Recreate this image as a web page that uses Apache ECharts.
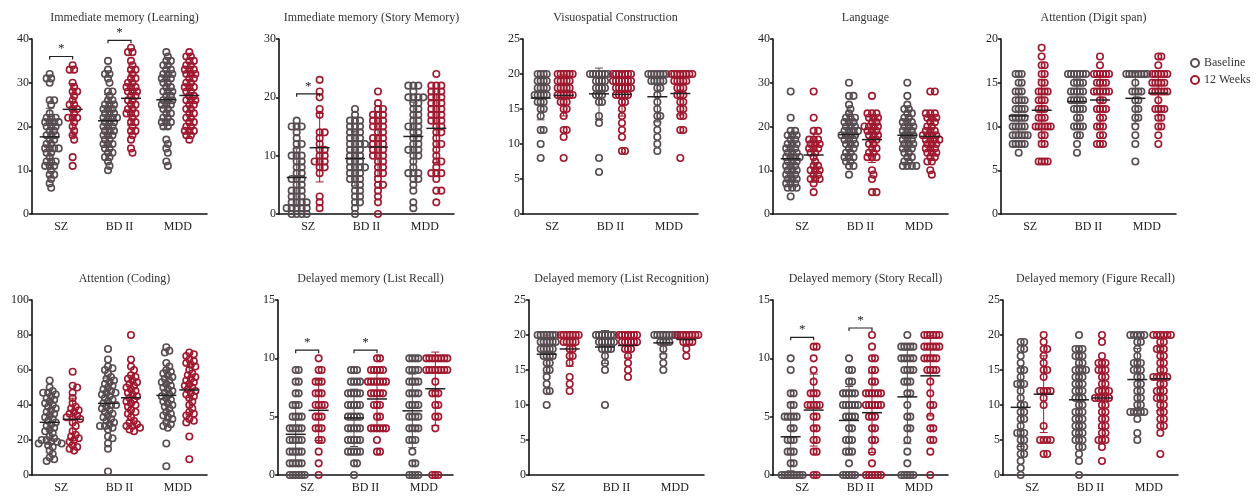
<!DOCTYPE html>
<html><head><meta charset="utf-8">
<script src="https://cdn.jsdelivr.net/npm/echarts@6/dist/echarts.min.js"></script>
<style>html,body{margin:0;padding:0;background:#fff}#c{width:1260px;height:498px}</style>
</head><body><div id="c"></div>
<script>
// ---------------- DATA ----------------
const categories = ['SZ', 'BD II', 'MDD'];
const groupNames = ['Baseline', '12 Weeks'];
const titles = ['Immediate memory (Learning)', 'Immediate memory (Story Memory)', 'Visuospatial Construction', 'Language', 'Attention (Digit span)',
  'Attention (Coding)', 'Delayed memory (List Recall)', 'Delayed memory (List Recognition)', 'Delayed memory (Story Recall)', 'Delayed memory (Figure Recall)'];
const yMax = [40, 30, 25, 40, 20, 100, 15, 25, 15, 25];
const yInterval = [10, 10, 5, 10, 5, 20, 5, 5, 5, 5];

// each panel: [SZ baseline, SZ 12w, BD II baseline, BD II 12w, MDD baseline, MDD 12w]; entries [score, count] or plain score
const learning = [
  [[32,1],[31,2],[30,1],[26,2],[25,1],[23,1],[22,3],[21,4],[20,3],[19,2],[18,3],[17,2],[16,2],[15,4],[14,2],[13,1],[12,3],[11,3],[10,1],[9,2],[8,1],[7,1],[6,1]],
  [[34,1],[33,2],[30,1],[29,1],[28,2],[27,1],[26,1],[25,2],[24,2],[23,1],[22,3],[21,1],[20,1],[19,1],[18,1],[17,1],[13,1],[11,1]],
  [[35,1],[33,1],[32,2],[31,1],[30,1],[28,2],[27,1],[26,2],[25,3],[24,3],[23,3],[22,4],[21,3],[20,3],[19,3],[18,3],[17,2],[16,3],[15,2],[14,2],[13,2],[12,1],[11,1],[10,1]],
  [[38,1],[37,2],[35,1],[34,1],[33,2],[32,1],[31,2],[30,2],[29,3],[28,3],[27,2],[26,2],[25,2],[24,2],[23,3],[22,1],[21,2],[20,1],[19,2],[18,1],[17,1],[15,1],[14,1]],
  [[37,1],[36,1],[35,2],[34,2],[33,2],[32,3],[31,3],[30,2],[29,2],[28,3],[27,2],[26,3],[25,3],[24,2],[23,2],[22,2],[21,3],[20,2],[17,1],[16,1],[15,1],[14,1],[12,1],[11,1]],
  [[37,1],[36,2],[35,2],[34,2],[33,3],[32,3],[31,2],[30,2],[29,3],[28,2],[27,2],[26,3],[25,2],[24,2],[23,2],[22,2],[21,2],[20,2],[19,3],[18,2],[17,1]]
];
const storyMemory = [
  [[16,1],[15,3],[14,1],[13,1],[12,2],[11,1],[10,3],[9,2],[8,2],[7,2],[6,3],[5,2],[4,3],[3,3],[2,4],[1,5],[0,4]],
  [[23,1],[21,1],[20,1],[18,1],[17,1],[14,2],[13,1],[12,1],[11,2],[10,2],[9,3],[8,2],[7,1],[3,1],[2,1],[1,1]],
  [[18,1],[17,1],[16,3],[15,3],[14,3],[13,3],[12,4],[11,3],[10,3],[9,3],[8,4],[7,3],[6,3],[5,2],[4,2],[3,2],[2,2],[1,1],[0,1]],
  [[21,1],[19,1],[18,2],[17,3],[16,3],[15,3],[14,2],[13,3],[12,3],[11,3],[10,3],[9,2],[8,2],[7,2],[6,1],[5,2],[4,1],[3,1],[2,1],[0,1]],
  [[22,3],[21,1],[20,4],[19,2],[18,2],[17,2],[16,2],[15,3],[14,2],[13,2],[12,2],[11,3],[10,2],[9,1],[8,1],[7,3],[6,2],[5,1],[4,1],[2,1],[1,1]],
  [[24,1],[22,3],[21,3],[20,3],[19,3],[18,3],[17,3],[16,3],[15,2],[14,2],[13,1],[12,2],[11,1],[10,1],[9,2],[8,1],[7,3],[6,1],[4,2],[2,1]]
];
const visuospatial = [
  [[20,4],[19,4],[18,4],[17,5],[16,3],[15,2],[14,1],[12,2],[10,1],[8,1]],
  [[20,6],[19,5],[18,5],[17,6],[16,3],[15,2],[14,1],[12,2],[11,1],[8,1]],
  [[20,7],[19,4],[18,4],[17,3],[16,2],[14,1],[13,1],[8,1],[6,1]],
  [[20,7],[19,7],[18,6],[17,5],[16,2],[15,1],[14,1],[13,1],[12,1],[11,1],[9,2]],
  [[20,7],[19,5],[18,2],[17,1],[16,1],[15,1],[14,2],[13,1],[12,1],[11,1],[10,1],[9,1]],
  [[20,8],[19,5],[18,3],[17,3],[16,2],[15,2],[14,2],[12,2],[8,1]]
];
const language = [
  [[28,1],[22,1],[19,2],[18,3],[17,2],[16,3],[15,3],[14,3],[13,4],[12,3],[11,3],[10,3],[9,3],[8,3],[7,3],[6,3],[4,1]],
  [[28,1],[22,1],[19,2],[17,3],[16,3],[15,3],[14,2],[13,1],[12,1],[11,2],[10,3],[9,2],[8,3],[7,1],[5,1]],
  [[30,1],[27,2],[25,1],[24,1],[23,1],[22,3],[21,3],[20,3],[19,4],[18,4],[17,3],[16,3],[15,2],[14,2],[13,3],[12,2],[11,2],[9,1]],
  [[27,1],[23,3],[22,3],[21,2],[20,4],[19,3],[18,3],[17,2],[16,2],[15,2],[14,2],[13,3],[10,1],[9,1],[8,1],[5,2]],
  [[30,1],[27,1],[25,1],[24,2],[23,2],[22,2],[21,3],[20,3],[19,3],[18,3],[17,3],[16,3],[15,3],[14,2],[13,2],[12,2],[11,4]],
  [[28,2],[23,3],[22,3],[21,2],[20,2],[19,3],[18,4],[17,4],[16,3],[15,3],[14,3],[13,2],[12,2],[10,1],[9,1]]
];
const digitSpan = [
  [[16,3],[15,2],[14,3],[13,4],[12,4],[11,5],[10,5],[9,6],[8,5],[7,1]],
  [[19,1],[18,1],[17,2],[16,2],[15,2],[14,4],[13,3],[12,3],[11,3],[10,6],[9,2],[8,2],[6,4]],
  [[16,7],[15,4],[14,5],[13,5],[12,4],[11,2],[10,4],[9,2],[8,1],[7,1]],
  [[18,1],[17,1],[16,6],[15,4],[14,6],[13,2],[12,4],[11,2],[10,3],[9,2],[8,3]],
  [[16,8],[15,1],[14,4],[13,2],[12,2],[11,2],[10,1],[9,1],[8,1],[6,1]],
  [[18,2],[17,1],[16,6],[15,5],[14,6],[13,1],[12,4],[11,2],[10,2],[9,1],[8,1]]
];
const coding = [
  [54,50,48,47,47,46,45,44,43,42,41,40,39,38,37,36,35,34,33,32,31,30,29,28,27,26,25,24,22,21,20,20,19,19,18,18,17,16,14,12,10,9,8],
  [59,51,50,47,44,41,39,38,37,36,35,34,33,33,32,30,28,25,23,22,21,20,19,17,16,15,14],
  [72,66,62,61,60,58,56,55,54,53,52,51,50,49,48,47,47,46,45,44,43,42,41,40,40,39,38,37,36,35,34,33,32,31,30,29,28,28,27,26,22,21,18,15,2],
  [80,66,62,60,57,56,55,54,53,52,51,50,49,48,47,46,45,44,43,42,41,40,39,37,36,35,33,31,30,29,28,28,27,26,25],
  [73,71,70,64,62,60,59,58,57,56,55,54,53,52,51,50,49,48,47,46,45,44,43,42,41,40,39,38,36,35,34,33,32,30,29,28,27,18,5],
  [70,69,68,66,65,64,63,62,60,58,57,56,55,54,53,52,51,50,49,48,47,46,45,44,42,40,38,36,35,34,32,31,30,22,9]
];
const listRecall = [
  [[9,2],[8,2],[7,2],[6,3],[5,4],[4,5],[3,5],[2,5],[1,5],[0,6]],
  [[10,1],[9,2],[8,3],[7,3],[6,4],[5,3],[4,3],[3,2],[2,1],[1,1],[0,1]],
  [[9,3],[8,4],[7,5],[6,5],[5,5],[4,5],[3,5],[2,5],[1,2],[0,1]],
  [[10,2],[9,5],[8,7],[7,5],[6,3],[5,2],[4,6],[3,1],[2,2]],
  [[10,4],[9,4],[8,4],[7,4],[6,4],[5,4],[4,4],[3,3],[2,1],[1,2],[0,4]],
  [[10,8],[9,8],[8,1],[7,3],[6,2],[5,2],[4,1],[0,3]]
];
const listRecognition = [
  [[20,7],[19,6],[18,5],[17,4],[16,2],[15,2],[14,1],[13,1],[12,2],[10,1]],
  [[20,7],[19,5],[18,2],[17,2],[16,1],[14,1],[13,1],[12,1]],
  [[20,7],[19,6],[18,4],[17,1],[16,1],[15,1],[10,1]],
  [[20,7],[19,6],[18,3],[17,1],[16,1],[15,1],[14,1]],
  [[20,8],[19,4],[18,1],[17,1],[16,1],[15,1]],
  [[20,8],[19,4],[18,1],[17,1]]
];
const storyRecall = [
  [[10,1],[9,1],[7,2],[6,2],[5,5],[4,2],[3,3],[2,3],[1,2],[0,8]],
  [[11,2],[10,1],[9,1],[8,1],[7,3],[6,5],[5,2],[4,2],[3,2],[2,2],[0,2]],
  [[10,1],[9,2],[8,2],[7,5],[6,6],[5,4],[4,2],[3,3],[2,3],[1,1],[0,5]],
  [[12,1],[11,1],[10,2],[9,2],[8,2],[7,6],[6,6],[5,3],[4,2],[3,2],[2,1],[1,1],[0,6]],
  [[12,1],[11,5],[10,5],[9,4],[8,3],[7,2],[6,1],[5,2],[4,2],[3,1],[2,1],[1,1],[0,5]],
  [[12,6],[11,6],[10,5],[9,4],[8,1],[7,1],[6,2],[5,1],[4,2],[3,2],[2,1],[0,1]]
];
const figureRecall = [
  [[19,2],[18,2],[17,1],[16,1],[15,2],[14,1],[13,3],[12,1],[11,1],[10,2],[9,2],[8,2],[7,1],[6,3],[5,2],[4,2],[3,2],[2,1],[1,1],[0,1]],
  [[20,1],[19,1],[18,2],[17,1],[16,1],[15,2],[14,1],[12,4],[11,1],[10,1],[7,1],[5,4],[3,2]],
  [[20,1],[18,3],[17,3],[16,2],[15,4],[14,3],[13,3],[12,3],[11,3],[10,2],[9,3],[8,3],[7,3],[6,3],[5,3],[4,2],[3,1],[2,1],[0,1]],
  [[20,1],[19,1],[17,1],[16,3],[15,3],[14,2],[13,2],[12,4],[11,5],[10,2],[9,2],[8,2],[7,2],[6,2],[5,3],[4,1],[2,1]],
  [[20,5],[19,2],[18,1],[17,1],[16,3],[15,3],[14,2],[13,2],[12,2],[11,2],[10,2],[9,5],[8,1],[6,1],[5,1]],
  [[20,6],[19,2],[18,3],[17,2],[16,2],[15,2],[14,5],[13,2],[12,3],[11,3],[10,2],[9,2],[8,2],[7,2],[6,1],[3,1]]
];
const panels = [learning, storyMemory, visuospatial, language, digitSpan, coding, listRecall, listRecognition, storyRecall, figureRecall];
// significance brackets: [panel, category index, bracket height]
const sigBrackets = [[0,0,36],[0,1,39.7],[1,0,20.6],[6,0,10.7],[6,1,10.7],[8,0,11.8],[8,1,12.6]];

// ---------------- LAYOUT / STYLE ----------------
const gridLefts = [32, 279, 523, 773, 1001, 32, 278, 529, 773, 1003];
const gridTops = [39, 39, 39, 39, 39, 300, 300, 300, 300, 300];
const GW = 175, GH = 175;
const colors = ['#574c51', '#a0192f'];
const FONT = '"Liberation Serif", "Times New Roman", serif';
const swarmDist = [4.5, 5, 2.6, 4.5, 2.8, 4.6, 2.8, 2.6, 2.8, 3.5];
const groupOffset = 0.197;

function expand(list) {
  const out = [];
  list.forEach(e => { if (Array.isArray(e)) { for (let i = 0; i < e[1]; i++) out.push(e[0]); } else out.push(e); });
  return out.sort((a, b) => b - a);
}
function swarm(vals, pxY, d) {
  const placed = [], out = [];
  vals.forEach(v => {
    const y = v * pxY;
    let x = 0;
    for (let i = 0; i < 800; i++) {
      const c = i === 0 ? 0 : (i % 2 ? Math.ceil(i / 2) : -Math.ceil(i / 2)) * 0.5;
      if (placed.every(p => (p[0] - c) * (p[0] - c) + (p[1] - y) * (p[1] - y) >= d * d - 1e-6)) { x = c; break; }
    }
    placed.push([x, y]); out.push([x, v]);
  });
  return out;
}
function stats(v) {
  const n = v.length, m = v.reduce((a, b) => a + b, 0) / n;
  const sd = Math.sqrt(v.reduce((a, b) => a + (b - m) * (b - m), 0) / (n - 1));
  return [m, sd];
}

const grid = [], xAxis = [], yAxis = [], series = [], title = [];
const pxX = GW / 3;
panels.forEach((pd, p) => {
  grid.push({ left: gridLefts[p], top: gridTops[p], width: GW, height: GH });
  title.push({ text: titles[p], left: gridLefts[p] + GW / 2, top: gridTops[p] - 32, textAlign: 'center',
    textStyle: { fontFamily: FONT, fontSize: 12, fontWeight: 'normal', color: '#333' } });
  xAxis.push({ type: 'category', gridIndex: p, data: categories,
    axisLine: { lineStyle: { color: '#111', width: 1.6 } },
    axisTick: { alignWithLabel: true, length: 3, lineStyle: { color: '#111', width: 1.5 } },
    axisLabel: { fontFamily: FONT, fontSize: 12, color: '#222', margin: 7 } });
  xAxis.push({ type: 'value', gridIndex: p, min: 0, max: 3, show: false });
  yAxis.push({ type: 'value', gridIndex: p, min: 0, max: yMax[p], interval: yInterval[p],
    splitLine: { show: false },
    axisLine: { show: true, onZero: false, lineStyle: { color: '#111', width: 1.6 } },
    axisTick: { show: true, length: 3, lineStyle: { color: '#111', width: 1.5 } },
    axisLabel: { fontFamily: FONT, fontSize: 12, color: '#222', margin: 3 } });
  const pxY = GH / yMax[p];
  const msd = [];
  [0, 1].forEach(g => {
    const data = [];
    categories.forEach((c, ci) => {
      const vals = expand(pd[ci * 2 + g]);
      const xc = ci + 0.5 + (g ? groupOffset : -groupOffset);
      swarm(vals, pxY, swarmDist[p]).forEach(pt => data.push([xc + pt[0] / pxX, pt[1]]));
      const s = stats(vals);
      msd.push([xc, s[0], s[1], g]);
    });
    series.push({ type: 'scatter', name: groupNames[g], xAxisIndex: p * 2 + 1, yAxisIndex: p, data: data,
      symbol: 'circle', symbolSize: 6.5, clip: false, z: 2,
      itemStyle: { color: 'rgba(255,255,255,0)', borderColor: colors[g], borderWidth: 1.6, opacity: 1 },
      emphasis: { disabled: true } });
  });
  series.push({ type: 'custom', xAxisIndex: p * 2 + 1, yAxisIndex: p, data: msd, clip: false, z: 5, silent: true,
    encode: { x: 0, y: 1 },
    renderItem: (params, api) => {
      const x = api.value(0), m = api.value(1), sd = api.value(2), g = api.value(3);
      const pm = api.coord([x, m]), pt = api.coord([x, m + sd]), pb = api.coord([x, Math.max(0, m - sd)]);
      const col = colors[g];
      return { type: 'group', children: [
        { type: 'line', shape: { x1: pm[0], y1: pt[1], x2: pm[0], y2: pb[1] }, style: { stroke: col, lineWidth: 1 } },
        { type: 'line', shape: { x1: pm[0] - 4, y1: pt[1], x2: pm[0] + 4, y2: pt[1] }, style: { stroke: col, lineWidth: 1 } },
        { type: 'line', shape: { x1: pm[0] - 4, y1: pb[1], x2: pm[0] + 4, y2: pb[1] }, style: { stroke: col, lineWidth: 1 } },
        { type: 'line', shape: { x1: pm[0] - 10, y1: pm[1], x2: pm[0] + 10, y2: pm[1] }, style: { stroke: '#222', lineWidth: 1.5 } }
      ] };
    } });
  const br = sigBrackets.filter(b => b[0] === p).map(b => [b[1] + 0.5 - groupOffset, b[1] + 0.5 + groupOffset, b[2]]);
  if (br.length) {
    series.push({ type: 'custom', xAxisIndex: p * 2 + 1, yAxisIndex: p, data: br, clip: false, z: 6, silent: true,
      encode: { x: 0, y: 2 },
      renderItem: (params, api) => {
        const a = api.coord([api.value(0), api.value(2)]), b = api.coord([api.value(1), api.value(2)]);
        return { type: 'group', children: [
          { type: 'polyline', shape: { points: [[a[0], a[1] + 3], [a[0], a[1]], [b[0], b[1]], [b[0], b[1] + 3]] },
            style: { stroke: '#222', lineWidth: 1.2, fill: null } },
          { type: 'text', x: (a[0] + b[0]) / 2, y: a[1] - 1,
            style: { text: '*', fontFamily: FONT, fontSize: 13, fill: '#222', textAlign: 'center', textVerticalAlign: 'bottom' } }
        ] };
      } });
  }
});

const chart = echarts.init(document.getElementById('c'), null, { renderer: 'canvas' });
chart.setOption({
  animation: false,
  backgroundColor: '#fff',
  title, grid, xAxis, yAxis, series,
  legend: { data: groupNames, orient: 'vertical', left: 1185, top: 52, itemGap: 5, itemWidth: 8, itemHeight: 8,
    icon: 'circle', selectedMode: false,
    textStyle: { fontFamily: FONT, fontSize: 12, color: '#333' } }
});
</script>
</body></html>
